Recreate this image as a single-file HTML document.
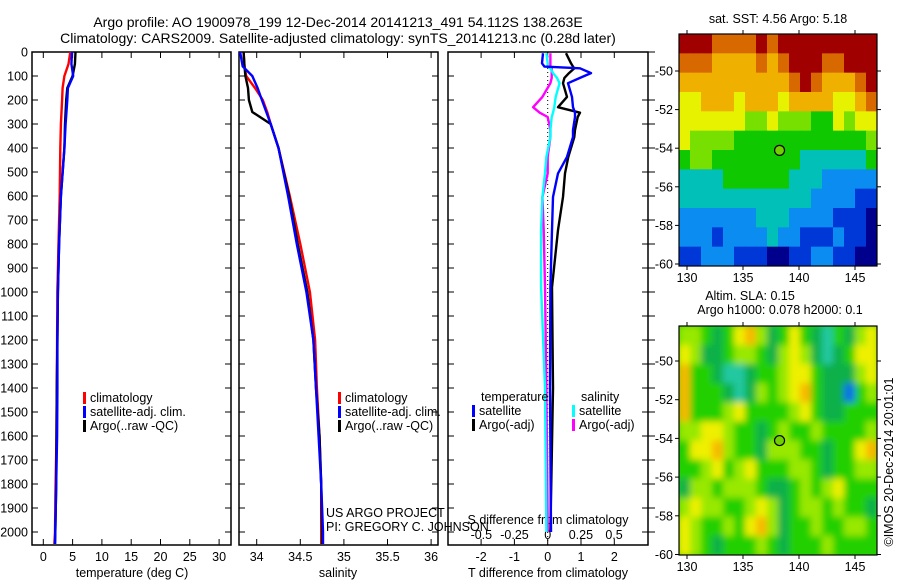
<!DOCTYPE html>
<html><head><meta charset="utf-8">
<style>
html,body{margin:0;padding:0;background:#fff;}
svg{display:block;font-family:"Liberation Sans",sans-serif;}
text{font-size:12.5px;fill:#000;}
.ttl{font-size:14px;}
</style></head>
<body>
<svg id="fig" width="900" height="580" viewBox="0 0 900 580" xmlns="http://www.w3.org/2000/svg">
<defs>
<filter id="blur" x="0" y="0" width="100%" height="100%"><feGaussianBlur stdDeviation="3.5"/></filter>
<clipPath id="clipTop"><rect x="679" y="34" width="198" height="232"/></clipPath>
<clipPath id="clipBot"><rect x="679" y="326" width="198" height="229"/></clipPath>
</defs>
<text class="ttl" x="338" y="27" text-anchor="middle">Argo profile: AO 1900978_199 12-Dec-2014 20141213_491 54.112S 138.263E</text>
<text class="ttl" x="338" y="43" text-anchor="middle">Climatology: CARS2009. Satellite-adjusted climatology: synTS_20141213.nc (0.28d later)</text>
<text x="778" y="23" text-anchor="middle">sat. SST: 4.56 Argo: 5.18</text>
<text x="750" y="300" text-anchor="middle">Altim. SLA: 0.15</text>
<text x="780" y="314" text-anchor="middle">Argo h1000: 0.078 h2000: 0.1</text>
<text transform="translate(893,462) rotate(-90)" text-anchor="middle">©IMOS 20-Dec-2014 20:01:01</text>
<g id="g"></g>
</svg>
<script>
const tDepth = [0,50,100,150,200,300,400,600,800,1000,1200,1400,1600,1800,2000,2050];
const tClim  = [4.6,4.3,3.6,3.3,3.2,3.0,2.9,2.8,2.6,2.4,2.35,2.3,2.25,2.1,2.0,1.9];
const tSat   = [4.9,4.8,5.1,4.2,4.1,3.8,3.6,3.0,2.7,2.5,2.4,2.4,2.35,2.2,2.05,2.0];
const tArgo  = [5.5,5.4,5.0,4.1,3.9,3.7,3.6,3.0,2.7,2.5,2.4,2.3,2.25,2.2,2.05,2.0];
const sDepth = [0,60,100,150,200,250,300,400,600,800,1000,1200,1400,1600,1800,2000,2050];
const sClim  = [33.85,33.86,33.88,33.98,34.07,34.12,34.16,34.25,34.38,34.50,34.61,34.67,34.69,34.72,34.74,34.74,34.74];
const sSat   = [33.81,33.84,33.95,34.01,34.06,34.11,34.16,34.25,34.36,34.46,34.57,34.65,34.68,34.71,34.74,34.76,34.76];
const sArgo  = [33.85,33.86,33.87,33.90,33.91,33.95,34.16,34.25,34.37,34.47,34.58,34.65,34.68,34.72,34.74,34.75,34.75];
const dDepth = [5,47,61,68,88,108,130,187,230,253,271,325,354,437,506,604,742,980,1400,2000];
const dTArgo = [0.55,0.7,0.76,0.8,0.64,0.5,0.46,0.58,0.31,0.97,0.9,0.82,0.8,0.62,0.52,0.46,0.31,0.13,0.16,0.08];
const dTSat  = [-0.14,-0.17,-0.1,0.97,1.3,0.97,0.61,0.73,0.76,0.82,0.82,0.76,0.76,0.58,0.31,0.16,0.13,0.08,0.07,0.1];
const dSSat  = [-0.01,0.0,0.0,0.02,0.04,0.07,0.09,0.06,0.05,0.04,0.03,0.02,0.02,-0.01,-0.02,-0.04,-0.05,-0.05,-0.02,-0.01];
const dSArgo = [0.02,0.02,0.02,0.03,0.03,0.03,0.02,-0.04,-0.11,-0.06,0.0,0.02,0.02,0.0,0.0,-0.04,-0.03,-0.02,-0.01,0.0];
const tTicks = [0,5,10,15,20,25,30];
const sTicks = [34,34.5,35,35.5,36];
const dtTicks = [-2,-1,0,1,2];
const dsTicks = [-0.5,-0.25,0,0.25,0.5];
const depthTicks = [0,100,200,300,400,500,600,700,800,900,1000,1100,1200,1300,1400,1500,1600,1700,1800,1900,2000];
const sstGrid = [
"999888898999999999",
"888777787899988999",
"777777777789877789",
"667776777677776678",
"666666556555446566",
"655554444444444445",
"455444444443333334",
"333344444433322222",
"333333333333222211",
"222222233322221110",
"222122223221112110",
"112221110011221100"];
const slaGrid = [
"443235642353213245",
"542234432454212355",
"633211233455322245",
"633321243456322034",
"633345333345322333",
"445543323433433334",
"355643324443323356",
"334534533344323344",
"244344432234345333",
"454433454234434332",
"543343564233433443",
"543233343233343333"];
const sstLons = [130,135,140,145];
const sstLats = [-50,-52,-54,-56,-58,-60];
const argoLon = 138.263, argoLat = -54.112;

const NS="http://www.w3.org/2000/svg";
const root=document.getElementById('g');
function mk(tag,attrs,parent){const e=document.createElementNS(NS,tag);for(const k in attrs)e.setAttribute(k,attrs[k]);(parent||root).appendChild(e);return e;}
const yD = d => 52 + d*0.24;
const xT = v => 43.3 + v*5.86;
const xS = v => 256.7 + (v-34)*87.2;
const xDT = v => 547.7 + v*33.3;
const xDS = v => 547.7 + v*132.7;
const mapX = lon => 687 + (lon-130)*11.2;
const yTop = lat => 71 + (-50-lat)*19.3;
const yBot = lat => 361 + (-50-lat)*19.35;

function panel(x0,x1,name){
  const r=mk('rect',{x:x0,y:52,width:x1-x0,height:493,fill:'none',stroke:'#000','stroke-width':1.5});
  
  
}
panel(32,231,'temperature-panel');panel(239,438,'salinity-panel');panel(448,648,'difference-panel');
depthTicks.forEach(d=>{
  const t=mk('text',{x:28,y:yD(d)+4.5,'text-anchor':'end'});t.textContent=d;
  
  
  [[32,38],[225,231],[239,245],[432,438],[448,454],[642,648],[648,655]].forEach(p=>mk('line',{x1:p[0],x2:p[1],y1:yD(d),y2:yD(d),stroke:'#000'}));
});
function xticks(vals,fx,labY,name){
  vals.forEach(v=>{const x=fx(v);
    mk('line',{x1:x,x2:x,y1:52,y2:58,stroke:'#000'});
    mk('line',{x1:x,x2:x,y1:545,y2:539,stroke:'#000'});
    const t=mk('text',{x:x,y:labY,'text-anchor':'middle'});t.textContent=v;
    
    
  });
}
xticks(tTicks,xT,561,'temperature-tick-label');
xticks(sTicks,xS,561,'salinity-tick-label');
xticks(dtTicks,xDT,561,'t-diff-tick-label');
dsTicks.forEach(v=>{const t=mk('text',{x:xDS(v),y:539,'text-anchor':'middle'});t.textContent=v;
  
  });
function lab(x,y,s,name,anchor){const t=mk('text',{x:x,y:y,'text-anchor':anchor||'middle'});t.textContent=s;
  return t;}
lab(132,577,'temperature (deg C)','x-axis-title-temperature');
lab(338,577,'salinity','x-axis-title-salinity');
lab(548,577,'T difference from climatology','x-axis-title-t-diff');
lab(548,524,'S difference from climatology','s-diff-axis-title');
lab(326,517,'US ARGO PROJECT','project-label','start');
lab(326,531,'PI: GREGORY C. JOHNSON','pi-label','start');
mk('line',{x1:547.7,x2:547.7,y1:52,y2:545,stroke:'#000','stroke-dasharray':'1,3'});
function line(xs,ds,fx,col,name,w){
  let p='';for(let i=0;i<xs.length;i++){p+=' '+fx(xs[i]).toFixed(1)+','+yD(ds[i]).toFixed(1);}
  const e=mk('polyline',{points:p,fill:'none',stroke:col,'stroke-width':w||2.4,'stroke-linejoin':'round'});
  
  
}
line(tClim,tDepth,xT,'#f00','temp-climatology-line');
line(tArgo,tDepth,xT,'#000','temp-argo-line');
line(tSat,tDepth,xT,'#00f','temp-satellite-line');
line(sClim,sDepth,xS,'#f00','sal-climatology-line');
line(sArgo,sDepth,xS,'#000','sal-argo-line');
line(sSat,sDepth,xS,'#00f','sal-satellite-line');
line(dSArgo,dDepth,xDS,'#f0f','s-diff-argo-line');
line(dSSat,dDepth,xDS,'#0ff','s-diff-satellite-line');
line(dTArgo,dDepth,xDT,'#000','t-diff-argo-line');
line(dTSat,dDepth,xDT,'#00f','t-diff-satellite-line');
function leg(x,y,col,s,name){mk('rect',{x:x,y:y-10,width:3,height:12,fill:col});lab(x+7,y,s,name,'start');}
leg(83,402,'#f00','climatology','legend-climatology');
leg(83,416,'#00f','satellite-adj. clim.','legend-satellite-adj');
leg(83,430,'#000','Argo(..raw -QC)','legend-argo');
leg(338,402,'#f00','climatology','legend-climatology-sal');
leg(338,416,'#00f','satellite-adj. clim.','legend-satellite-adj-sal');
leg(338,430,'#000','Argo(..raw -QC)','legend-argo-sal');
lab(481,401,'temperature','legend-temperature-header','start');
leg(472,415,'#00f','satellite','legend-t-satellite');
leg(472,429,'#000','Argo(-adj)','legend-t-argo');
lab(581,401,'salinity','legend-salinity-header','start');
leg(572,415,'#0ff','satellite','legend-s-satellite');
leg(572,429,'#f0f','Argo(-adj)','legend-s-argo');
const sstCols=['#00008c','#0038d8','#0a8cf0','#00c0b8','#10c800','#78e000','#e6f200','#f0b000','#d86800','#a00000'];
const slaCols=['#1070e8','#20c8a0','#10b048','#20d000','#98e800','#eef000','#f8b800'];
function grid(gr,cols,y0,h,clip,name,filt){
  const gg=mk('g',{'clip-path':'url(#'+clip+')'});
  const inner=mk('g',filt?{filter:'url(#blur)'}:{},gg);
  if(filt) mk('rect',{x:670,y:y0-10,width:220,height:h+20,fill:cols[3]},inner);
  const cw=198/18,rh=h/gr.length;
  gr.forEach((row,r)=>{for(let c=0;c<row.length;c++){
    const cell=mk('rect',{x:679+c*cw,y:y0+r*rh,width:cw+0.6,height:rh+0.6,fill:cols[+row[c]]},inner);
    
    
  }});
}
grid(sstGrid,sstCols,34,232,'clipTop','sst-cell',false);
grid(slaGrid,slaCols,326,229,'clipBot','sla-cell',true);
function mapFrame(y0,h,fy,name){
  const r=mk('rect',{x:679,y:y0,width:198,height:h,fill:'none',stroke:'#000','stroke-width':1.2});
  
  sstLons.forEach(l=>{const x=mapX(l);mk('line',{x1:x,x2:x,y1:y0,y2:y0-4,stroke:'#000'});mk('line',{x1:x,x2:x,y1:y0+h,y2:y0+h+4,stroke:'#000'});
    lab(x,y0+h+16,l,'map-lon-label');});
  sstLats.forEach(l=>{const y=fy(l);mk('line',{x1:877,x2:881,y1:y,y2:y,stroke:'#000'});mk('line',{x1:679,x2:675,y1:y,y2:y,stroke:'#000'});
    lab(673,y+4.5,l,'map-lat-label','end');});
  const m=mk('circle',{cx:mapX(argoLon),cy:fy(argoLat),r:5,fill:'#70d000',stroke:'#000','stroke-width':1.2});
  
  
}
mapFrame(34,232,yTop,'sst-map');
mapFrame(326,229,yBot,'sla-map');
</script>
</body></html>
